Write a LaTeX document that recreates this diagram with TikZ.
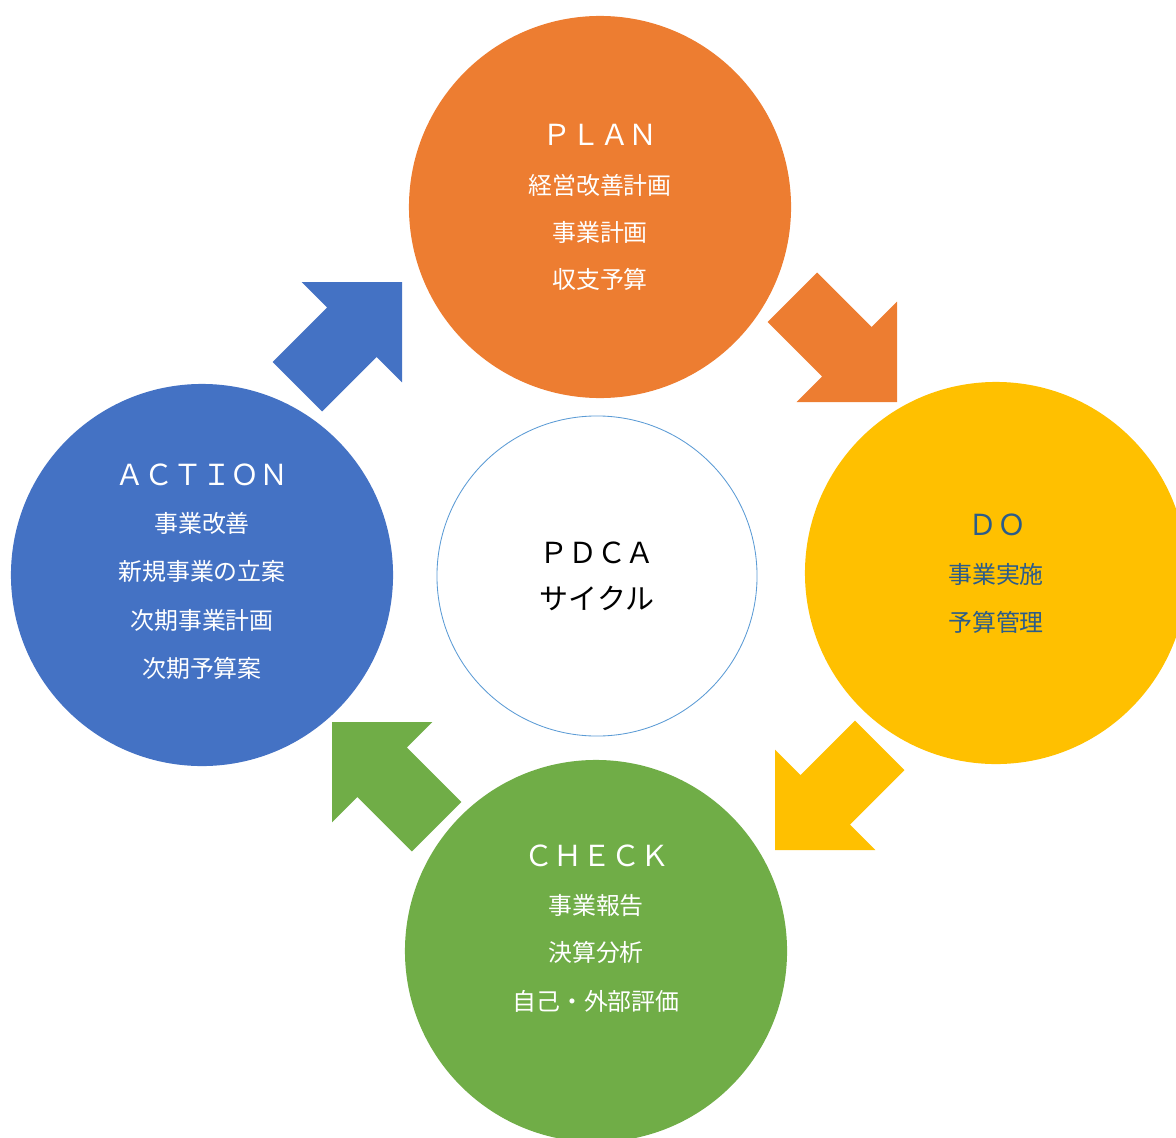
\documentclass[tikz,border=0pt]{standalone}
\usepackage{fontspec}
\setmainfont{Noto Sans CJK JP}
\usepackage{xcolor}
\definecolor{planorange}{HTML}{ED7D31}
\definecolor{doyellow}{HTML}{FFC000}
\definecolor{checkgreen}{HTML}{70AD47}
\definecolor{actblue}{HTML}{4472C4}
\definecolor{ringblue}{HTML}{5B9BD5}
\definecolor{dotext}{HTML}{2B5C8A}
\tikzset{
  phase/.style={circle, inner sep=0pt, minimum size=9.55cm},
  hub/.style={circle, draw=ringblue, line width=0.6pt, fill=white, inner sep=0pt, minimum size=8cm},
  headline/.style={font=\fontsize{20.6}{24}\selectfont, inner sep=0pt},
  item/.style={font=\fontsize{17}{20}\selectfont, inner sep=0pt},
  pics/turnarrow/.style={code={
    \fill[#1] (0,0) -- (-71,71) -- (-71,35) -- (-148,35) -- (-148,-35)
      -- (-71,-35) -- (-71,-71) -- cycle;
  }},
}

\begin{document}
\begin{tikzpicture}[x=0.025cm, y=-0.025cm]
  \useasboundingbox (0,0) rectangle (1176,1137);
  \clip (0,0) rectangle (1176,1137);

  % four phases and the hub
  \node[phase, fill=planorange] (plan) at (600,207) {};
  \node[phase, fill=doyellow] (do) at (996,573) {};
  \node[phase, fill=checkgreen] (check) at (596,951) {};
  \node[phase, fill=actblue] (action) at (202,575) {};
  \node[hub] (pdca) at (597,576) {};

  % block arrows between the phases
  \pic[rotate=-45] at (897,402) {turnarrow=planorange};
  \pic[rotate=-135] at (775,850) {turnarrow=doyellow};
  \pic[rotate=135] at (332,722) {turnarrow=checkgreen};
  \pic[rotate=45] at (402,282) {turnarrow=actblue};

  % PLAN
  \node[headline, text=white] (plantitle) at (600,135) {ＰＬＡＮ};
  \node[item, text=white] (plan1) at (600,185) {経営改善計画};
  \node[item, text=white] (plan2) at (600,232) {事業計画};
  \node[item, text=white] (plan3) at (600,279) {収支予算};

  % DO
  \node[headline, text=dotext] (dotitle) at (997,525) {ＤＯ};
  \node[item, text=dotext] (do1) at (996,574) {事業実施};
  \node[item, text=dotext] (do2) at (996,622) {予算管理};

  % CHECK
  \node[headline, text=white] (checktitle) at (597,856) {ＣＨＥＣＫ};
  \node[item, text=white] (check1) at (596,905) {事業報告};
  \node[item, text=white] (check2) at (596,952) {決算分析};
  \node[item, text=white] (check3) at (596,1001) {自己・外部評価};

  % ACTION
  \node[headline, text=white] (acttitle) at (202,475) {ＡＣＴＩＯＮ};
  \node[item, text=white] (act1) at (202,523) {事業改善};
  \node[item, text=white] (act2) at (202,571) {新規事業の立案};
  \node[item, text=white] (act3) at (202,620) {次期事業計画};
  \node[item, text=white] (act4) at (202,668) {次期予算案};

  % centre
  \node[headline, text=black] (hubtitle) at (597,553) {ＰＤＣＡ};
  \node[headline, text=black] (hubtext) at (597,598) {サイクル};
\end{tikzpicture}
\end{document}
